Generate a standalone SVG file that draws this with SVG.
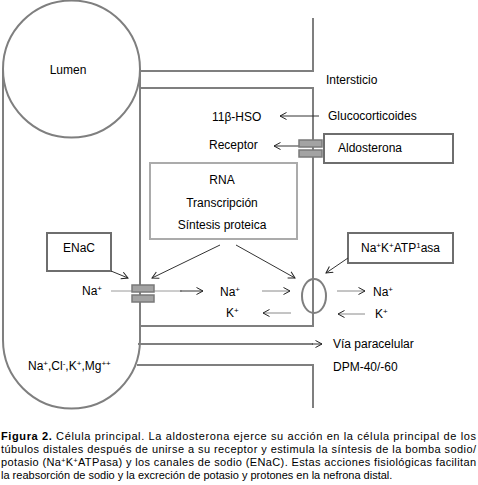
<svg xmlns="http://www.w3.org/2000/svg" width="478" height="485" viewBox="0 0 478 485">
<defs>
<marker id="ah" markerUnits="userSpaceOnUse" markerWidth="10" markerHeight="10" refX="7" refY="4" orient="auto">
<path d="M0.5,0.5 L7,4 L0.5,7.5" fill="none" stroke="#222" stroke-width="1"/>
</marker>
</defs>
<style>
text{font-family:"Liberation Sans",Arial,sans-serif;font-size:12px;fill:#000}
.cap{font-size:11px}
.wall{fill:none;stroke:#7f7f7f;stroke-width:2}
.box{fill:#fff;stroke:#6e6e6e;stroke-width:2}
.rna{fill:#fff;stroke:#ababab;stroke-width:2}
.ch{fill:#a3a3a3;stroke:#7a7a7a;stroke-width:1.5}
.arr{fill:none;stroke:#333;stroke-width:1;marker-end:url(#ah)}
.garr{fill:none;stroke:#8a8a8a;stroke-width:1;marker-end:url(#ah)}
.sup{font-size:8px}
</style>
<rect width="478" height="485" fill="#fff"/>
<g id="tubule">
<path class="wall" d="M140,69 L140,340 A68.5,68.5 0 0 1 3,340 L3,69"/>
<circle class="wall" cx="71.5" cy="69" r="68.5" fill="#fff"/>
<text x="68" y="74" text-anchor="middle">Lumen</text>
<text x="28" y="370">Na<tspan class="sup" baseline-shift="super">+</tspan>,Cl<tspan class="sup" baseline-shift="super">-</tspan>,K<tspan class="sup" baseline-shift="super">+</tspan>,Mg<tspan class="sup" baseline-shift="super">++</tspan></text>
</g>
<g id="neighbors">
<path class="wall" d="M140,71 L313,71 L313,18"/>
<path class="wall" d="M137,365 L313,365 L313,408"/>
</g>
<g id="cell">
<rect class="wall" x="140" y="88" width="173" height="238"/>
<text x="326" y="84">Intersticio</text>
<text x="212" y="121">11β-HSO</text>
<text x="209" y="149">Receptor</text>
<text x="328" y="120">Glucocorticoides</text>
</g>
<g id="rna">
<rect class="rna" x="150" y="163" width="147" height="76"/>
<text x="222" y="184" text-anchor="middle">RNA</text>
<text x="222" y="207" text-anchor="middle">Transcripción</text>
<text x="222" y="229" text-anchor="middle">Síntesis proteica</text>
</g>
<g id="aldosterona">
<rect class="box" x="324" y="134" width="129" height="29"/>
<text x="338" y="152">Aldosterona</text>
</g>
<g id="enac">
<rect class="box" x="47" y="233" width="64" height="38"/>
<text x="79" y="252" text-anchor="middle">ENaC</text>
</g>
<g id="atpasa">
<rect class="box" x="348" y="233" width="105" height="30"/>
<text x="400.5" y="252" text-anchor="middle">Na<tspan class="sup" baseline-shift="super">+</tspan>K<tspan class="sup" baseline-shift="super">+</tspan>ATP<tspan class="sup" baseline-shift="super">1</tspan>asa</text>
</g>
<g id="ions">
<text x="82" y="295">Na<tspan class="sup" baseline-shift="super">+</tspan></text>
<text x="220" y="296">Na<tspan class="sup" baseline-shift="super">+</tspan></text>
<text x="226" y="317">K<tspan class="sup" baseline-shift="super">+</tspan></text>
<text x="373" y="296">Na<tspan class="sup" baseline-shift="super">+</tspan></text>
<text x="375" y="318">K<tspan class="sup" baseline-shift="super">+</tspan></text>
<text x="333" y="348">Vía paracelular</text>
<text x="333" y="371">DPM-40/-60</text>
</g>
<g id="connectors">
<line class="arr" x1="319" y1="116" x2="280" y2="116"/>
<line class="arr" x1="300" y1="146" x2="274" y2="146"/>
<line class="arr" x1="111" y1="271" x2="128" y2="278"/>
<line class="arr" x1="220" y1="245" x2="152" y2="278"/>
<line class="arr" x1="236" y1="245" x2="295" y2="278"/>
<line class="arr" x1="348" y1="258" x2="326" y2="273"/>
<line x1="111" y1="291" x2="182" y2="291" stroke="#9a9a9a" stroke-width="1"/>
<line class="arr" x1="180" y1="291" x2="203" y2="291"/>
<line class="garr" x1="262" y1="291" x2="290" y2="291"/>
<line class="garr" x1="291" y1="313" x2="263" y2="313"/>
<line class="garr" x1="337" y1="291" x2="365" y2="291"/>
<line class="garr" x1="365" y1="314" x2="338" y2="314"/>
<line class="wall" x1="138" y1="344" x2="313" y2="344"/>
<line class="arr" x1="312" y1="344" x2="322" y2="344"/>
</g>
<g id="channels">
<rect class="ch" x="299" y="140" width="23" height="7"/>
<rect class="ch" x="299" y="150" width="23" height="7"/>
<rect class="ch" x="132" y="285" width="22" height="7"/>
<rect class="ch" x="132" y="295" width="22" height="7"/>
<ellipse class="wall" cx="314" cy="296" rx="12" ry="17"/>
<line class="wall" x1="313" y1="279" x2="313" y2="313"/>
</g>
<g id="caption">
<text class="cap" x="1" y="440" textLength="475" lengthAdjust="spacing"><tspan font-weight="bold">Figura 2.</tspan> Célula principal. La aldosterona ejerce su acción en la célula principal de los</text>
<text class="cap" x="1" y="453" textLength="475" lengthAdjust="spacing">túbulos distales después de unirse a su receptor y estimula la síntesis de la bomba sodio/</text>
<text class="cap" x="1" y="466" textLength="475" lengthAdjust="spacing">potasio (Na<tspan font-size="7" baseline-shift="super">+</tspan>K<tspan font-size="7" baseline-shift="super">+</tspan>ATPasa) y los canales de sodio (ENaC). Estas acciones fisiológicas facilitan</text>
<text class="cap" x="1" y="479">la reabsorción de sodio y la excreción de potasio y protones en la nefrona distal.</text>
</g>
</svg>
